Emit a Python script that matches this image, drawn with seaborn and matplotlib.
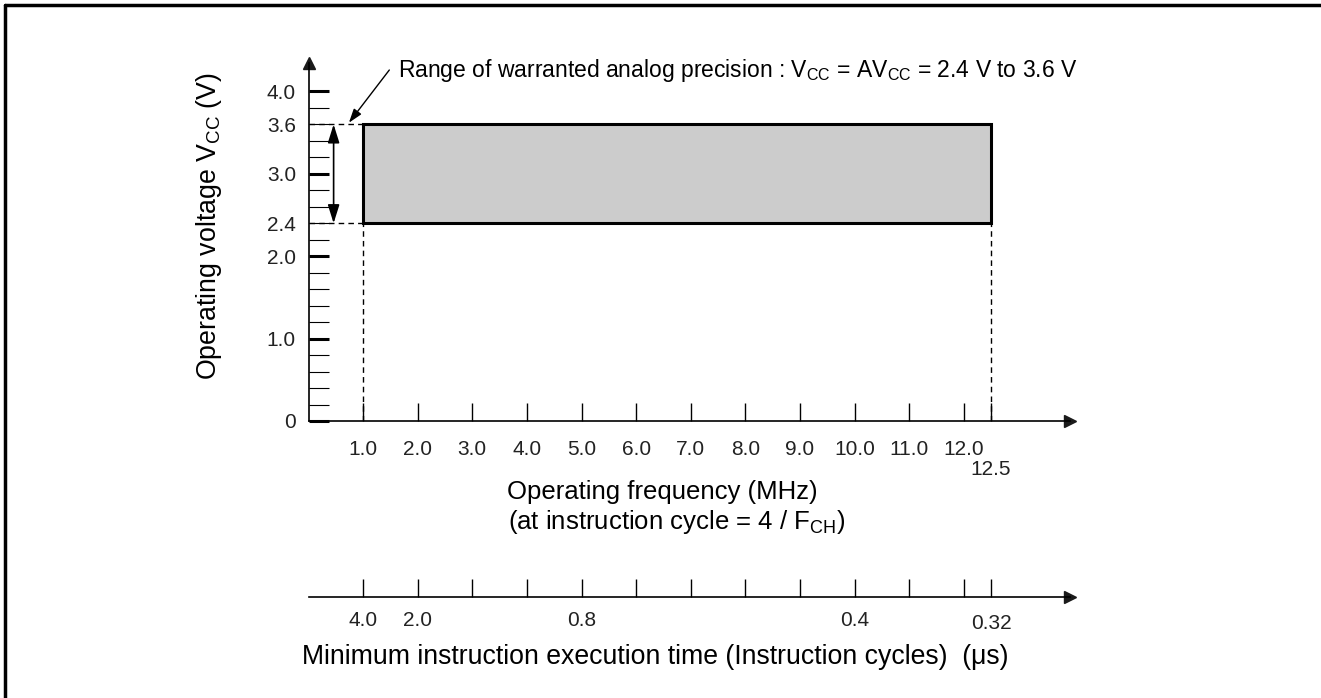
import matplotlib
matplotlib.use("Agg")
import matplotlib.pyplot as plt
import seaborn as sns
import numpy as np
from matplotlib.lines import Line2D
from matplotlib.ticker import FixedLocator, FuncFormatter

# operating region (from the chart)
freq_min = 1.0
freq_max = 12.5
vcc_min = 2.4
vcc_max = 3.6

freq_ticks = [1.0, 2.0, 3.0, 4.0, 5.0, 6.0, 7.0, 8.0, 9.0, 10.0, 11.0, 12.0]
volt_major = [0.0, 1.0, 2.0, 3.0, 4.0]
volt_labels_major = ["0", "1.0", "2.0", "3.0", "4.0"]
volt_minor = [0.2, 0.4, 0.6, 0.8, 1.2, 1.4, 1.6, 1.8, 2.2, 2.4, 2.6, 2.8,
              3.2, 3.4, 3.6, 3.8]
volt_minor_labels = {2.4: "2.4", 3.6: "3.6"}

# instruction execution time axis (us) at given frequencies
time_tick_freqs = [1.0, 2.0, 3.0, 4.0, 5.0, 6.0, 7.0, 8.0, 9.0, 10.0, 11.0, 12.0]
time_labels = {1.0: "4.0", 2.0: "2.0", 5.0: "0.8", 10.0: "0.4"}
time_last = "0.32"

W, H = 1321, 698
sns.set_theme(style="white")
plt.rcParams["font.family"] = ["Liberation Sans", "DejaVu Sans"]
plt.rcParams["mathtext.fontset"] = "custom"
plt.rcParams["mathtext.rm"] = "Liberation Sans"
plt.rcParams["mathtext.it"] = "Liberation Sans:italic"
plt.rcParams["mathtext.bf"] = "Liberation Sans:bold"

fig = plt.figure(figsize=(W / 100, H / 100), dpi=100)
fig.patch.set_facecolor("white")

# frame (top and left edges only visible)
fig.add_artist(Line2D([5 / W, 1], [1 - 5 / H, 1 - 5 / H], transform=fig.transFigure,
                      color="black", lw=2.5))
fig.add_artist(Line2D([5 / W, 5 / W], [0, 1 - 5 / H], transform=fig.transFigure,
                      color="black", lw=2.5))

ax = fig.add_axes([308.5 / W, (H - 421) / H, 761.7 / W, 358 / H])
ax.set_xlim(0, 13.95)
ax.set_ylim(0, 4.345)
ax.set_facecolor("white")

ax.bar(freq_min, vcc_max - vcc_min, width=freq_max - freq_min, bottom=vcc_min,
       align="edge", color="#cccccc", edgecolor="black", linewidth=2.2, zorder=3)

dash = (0, (4, 3))
ax.hlines([vcc_min, vcc_max], 0, freq_min, colors="black", linestyles=dash, lw=1)
ax.vlines([freq_min, freq_max], 0, vcc_min, colors="black", linestyles=dash, lw=1)

ax.annotate("", xy=(0.46, vcc_max), xytext=(0.46, vcc_min),
            arrowprops=dict(arrowstyle="<|-|>,head_length=0.7,head_width=0.22",
                            color="black", lw=1.2, shrinkA=0, shrinkB=0,
                            mutation_scale=16))

for side in ["top", "right"]:
    ax.spines[side].set_visible(False)
for side in ["left", "bottom"]:
    ax.spines[side].set_color("black")
    ax.spines[side].set_linewidth(1.2)
ax.plot(1, 0, ">k", ms=9, transform=ax.get_yaxis_transform(), clip_on=False)
ax.plot(0, 1, "^k", ms=9, transform=ax.get_xaxis_transform(), clip_on=False)

# y ticks
ax.yaxis.set_major_locator(FixedLocator(volt_major))
ax.set_yticklabels(volt_labels_major)
ax.yaxis.set_minor_locator(FixedLocator(volt_minor))
ax.yaxis.set_minor_formatter(FuncFormatter(lambda v, p: volt_minor_labels.get(round(v, 1), "")))
ax.tick_params(axis="y", which="major", direction="in", length=14.4, width=2.2,
               color="black", pad=9, labelsize=15, labelcolor="#222222", left=True)
ax.tick_params(axis="y", which="minor", direction="in", length=14.4, width=0.8,
               color="black", pad=9, labelsize=15, labelcolor="#222222", left=True)

# x ticks
ax.xaxis.set_major_locator(FixedLocator(freq_ticks))
ax.set_xticklabels([f"{v:.1f}" for v in freq_ticks])
ax.xaxis.set_minor_locator(FixedLocator([freq_max]))
ax.xaxis.set_minor_formatter(FuncFormatter(lambda v, p: f"{v:.1f}"))
ax.tick_params(axis="x", which="major", direction="in", length=13, width=1,
               color="black", pad=14, labelsize=15, labelcolor="#222222", bottom=True)
ax.tick_params(axis="x", which="minor", direction="in", length=13, width=1,
               color="black", pad=28, labelsize=15, labelcolor="#222222", bottom=True)

ax.set_ylabel(r"Operating voltage V$_{\mathrm{CC}}$ (V)", fontsize=19.3, color="black")
ax.yaxis.set_label_coords((224 - 308.5) / 761.7, (421 - 226) / 358)

ax.text((662 - 308.5) / 761.7, (421 - 492) / 358, "Operating frequency (MHz)",
        transform=ax.transAxes, ha="center", va="center", fontsize=18.5, color="black")
ax.text((677 - 308.5) / 761.7, (421 - 522) / 358,
        r"(at instruction cycle = 4 / F$_{\mathrm{CH}}$)",
        transform=ax.transAxes, ha="center", va="center", fontsize=18.5, color="black")

ax.text(1.64, 4.26, r"Range of warranted analog precision : V$_{\mathrm{CC}}$ = AV$_{\mathrm{CC}}$ = 2.4 V to 3.6 V",
        ha="left", va="center", fontsize=16.5, color="black")
ax.annotate("", xy=(0.74, 3.62), xytext=(1.48, 4.26),
            arrowprops=dict(arrowstyle="-|>,head_length=0.6,head_width=0.2",
                            color="black", lw=1, shrinkA=0, shrinkB=0,
                            mutation_scale=14), annotation_clip=False)

# second axis: instruction execution time
ax2 = fig.add_axes([308.5 / W, (H - 597) / H, 761.7 / W, 0.001])
ax2.set_xlim(0, 13.95)
ax2.set_ylim(0, 1)
ax2.patch.set_alpha(0)
for side in ["top", "right", "left"]:
    ax2.spines[side].set_visible(False)
ax2.spines["bottom"].set_color("black")
ax2.spines["bottom"].set_linewidth(1.2)
ax2.set_yticks([])
ax2.xaxis.set_major_locator(FixedLocator(time_tick_freqs))
ax2.set_xticklabels([time_labels.get(v, "") for v in time_tick_freqs])
ax2.xaxis.set_minor_locator(FixedLocator([freq_max]))
ax2.xaxis.set_minor_formatter(FuncFormatter(lambda v, p: time_last))
ax2.tick_params(axis="x", which="both", direction="in", length=13, width=1,
                color="black", pad=10, labelsize=15, labelcolor="#222222", bottom=True)
ax2.tick_params(axis="x", which="minor", pad=12)
ax2.plot(1, 0, ">k", ms=9, transform=ax2.get_yaxis_transform(), clip_on=False)
fig.text(655 / W, 1 - 657 / H,
         "Minimum instruction execution time (Instruction cycles)  (μs)",
         ha="center", va="center", fontsize=19.2, color="black")

fig.savefig("out.png", dpi=100, facecolor="white")
